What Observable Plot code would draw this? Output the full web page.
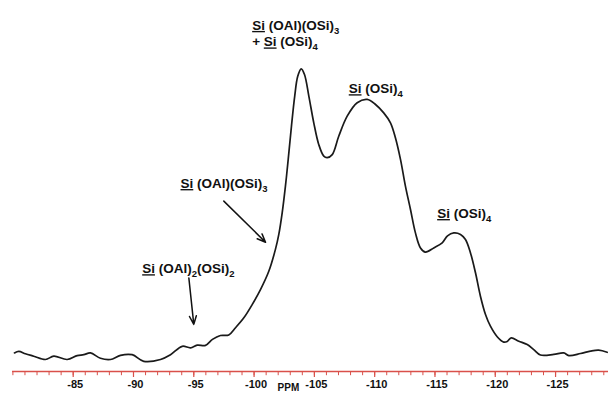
<!DOCTYPE html>
<html><head><meta charset="utf-8">
<script src="https://cdn.jsdelivr.net/npm/d3@7"></script>
<script src="https://cdn.jsdelivr.net/npm/@observablehq/plot@0.6"></script>
<style>
html,body{margin:0;padding:0;background:#fff;}
#chart svg{display:block;}
</style>
</head><body><div id="chart"></div>
<script>
// 29Si MAS NMR spectrum: chemical shift (ppm) and relative intensity
const ppm = [-80.13,-80.49,-81.04,-81.73,-82.70,-83.39,-84.50,-85.33,-85.88,-86.43,-87.26,-88.09,-88.92,-89.89,-90.85,-92.24,-93.07,-94.04,-94.73,-95.28,-95.97,-96.55,-97.21,-97.90,-98.46,-99.15,-99.84,-100.53,-101.22,-101.77,-102.05,-102.33,-102.60,-102.83,-103.10,-103.37,-103.62,-103.91,-104.18,-104.54,-104.95,-105.36,-105.78,-106.06,-106.48,-107.02,-107.72,-108.55,-109.38,-110.07,-110.75,-111.31,-111.72,-112.14,-112.55,-112.97,-113.38,-113.80,-114.21,-114.90,-115.60,-116.04,-116.56,-117.12,-117.53,-117.94,-118.36,-118.77,-119.19,-119.60,-120.16,-120.70,-120.99,-121.32,-121.95,-122.65,-123.19,-123.75,-124.85,-125.68,-126.10,-127.07,-127.90,-128.58,-129.28];
const intensity = [6.2,6.7,5.9,5.1,4.0,5.1,4.0,5.3,5.6,6.2,4.4,4.0,5.4,5.6,3.4,4.0,5.6,8.4,7.9,8.8,8.7,10.7,12.0,12.2,14.6,17.9,22.3,27.3,33.4,40.7,45.7,52.9,61.8,70.7,81.8,91.8,98.4,100.9,99.0,91.8,82.9,75.7,71.8,71.3,72.3,78.4,85.1,89.6,90.7,89.0,86.2,82.9,77.9,70.7,61.8,54.0,46.2,41.2,39.8,41.2,42.9,45.2,46.2,45.7,44.0,39.6,32.9,25.1,19.0,15.1,11.6,9.8,10.0,11.2,10.1,9.0,7.3,5.5,5.7,6.2,5.3,6.0,6.8,7.1,6.4];

const majorTicks = [-85,-90,-95,-100,-105,-110,-115,-120,-125];
const minorTicks = d3.range(-80, -130, -1);
const axisTitle = "PPM";

// Annotation labels (markup: _underlined_, ~subscript~)
const labelPpm = [-99.84, -99.84, -107.85, -115.18, -93.90, -90.72];
const labelInt = [115.3, 109.8, 94.2, 52.6, 62.6, 34.2];
const labelText = [
  "_Si_ (OAl)(OSi)~3~",
  "+ _Si_ (OSi)~4~",
  "_Si_ (OSi)~4~",
  "_Si_ (OSi)~4~",
  "_Si_ (OAl)(OSi)~3~",
  "_Si_ (OAl)~2~(OSi)~2~"
];
// Arrows
const arrowX1 = [-97.49, -94.59];
const arrowY1 = [56.8, 31.2];
const arrowX2 = [-100.95, -95.00];
const arrowY2 = [43.1, 15.7];

const spectrum = ppm.map((p, i) => ({ppm: p, intensity: intensity[i]}));
const labels = labelText.map((t, i) => ({ppm: labelPpm[i], intensity: labelInt[i], text: t}));
const arrows = arrowX1.map((x, i) => ({x1: x, y1: arrowY1[i], x2: arrowX2[i], y2: arrowY2[i]}));

const RED = "#d9504a";

const chart = Plot.plot({
  width: 608,
  height: 393,
  marginLeft: 12.4,
  marginRight: 0,
  marginTop: 71,
  marginBottom: 22,
  x: {domain: [-80, -129.39], axis: null},
  y: {domain: [0, 100], axis: null},
  style: {fontFamily: "'Liberation Sans', Arial, sans-serif", background: "#fff", overflow: "visible"},
  marks: [
    Plot.ruleY([0], {x1: -79.97, x2: -129.39, stroke: RED, strokeWidth: 1.3}),
    Plot.ruleX(minorTicks, {x: d => d, y1: 0, y2: -1.4, stroke: RED, strokeWidth: 1}),
    Plot.ruleX(majorTicks, {x: d => d, y1: 0, y2: -2.0, stroke: RED, strokeWidth: 1.2}),
    Plot.text(majorTicks, {x: d => d, y: 0, dy: 13, dx: 2, text: d => String(d), fontSize: 11, fontWeight: "bold", fill: "#111"}),
    Plot.text([axisTitle], {x: -102.85, y: 0, dy: 16.5, text: d => d, fontSize: 10, fontWeight: "bold", fill: "#111"}),
    Plot.line(spectrum, {x: "ppm", y: "intensity", stroke: "#1a1a1a", strokeWidth: 1.7, curve: "catmull-rom"}),
    Plot.arrow(arrows, {x1: "x1", y1: "y1", x2: "x2", y2: "y2", stroke: "#111", strokeWidth: 1.5, headLength: 9, headAngle: 45}),
    Plot.text(labels, {x: "ppm", y: "intensity", text: "text", textAnchor: "start", fontSize: 13.5, fontWeight: "bold", fill: "#111"})
  ]
});

// Turn markup in labels into underline / subscript tspans
const NS = "http://www.w3.org/2000/svg";
chart.querySelectorAll("text").forEach(el => {
  const s = el.textContent;
  if (!/[_~]/.test(s)) return;
  while (el.firstChild) el.removeChild(el.firstChild);
  const parts = s.match(/_[^_]+_|~[^~]+~|[^_~]+/g) || [];
  let shifted = false;
  parts.forEach(p => {
    const t = document.createElementNS(NS, "tspan");
    if (p.startsWith("~")) {
      t.textContent = p.slice(1, -1);
      t.setAttribute("font-size", "9.5");
      if (!shifted) { t.setAttribute("dy", "4"); shifted = true; }
    } else {
      if (shifted) { t.setAttribute("dy", "-4"); shifted = false; }
      if (p.startsWith("_")) {
        t.textContent = p.slice(1, -1);
        t.setAttribute("text-decoration", "underline");
        t.style.textDecoration = "underline";
      } else {
        t.textContent = p;
      }
    }
    el.appendChild(t);
  });
});

document.getElementById("chart").appendChild(chart);
</script>
</body></html>
